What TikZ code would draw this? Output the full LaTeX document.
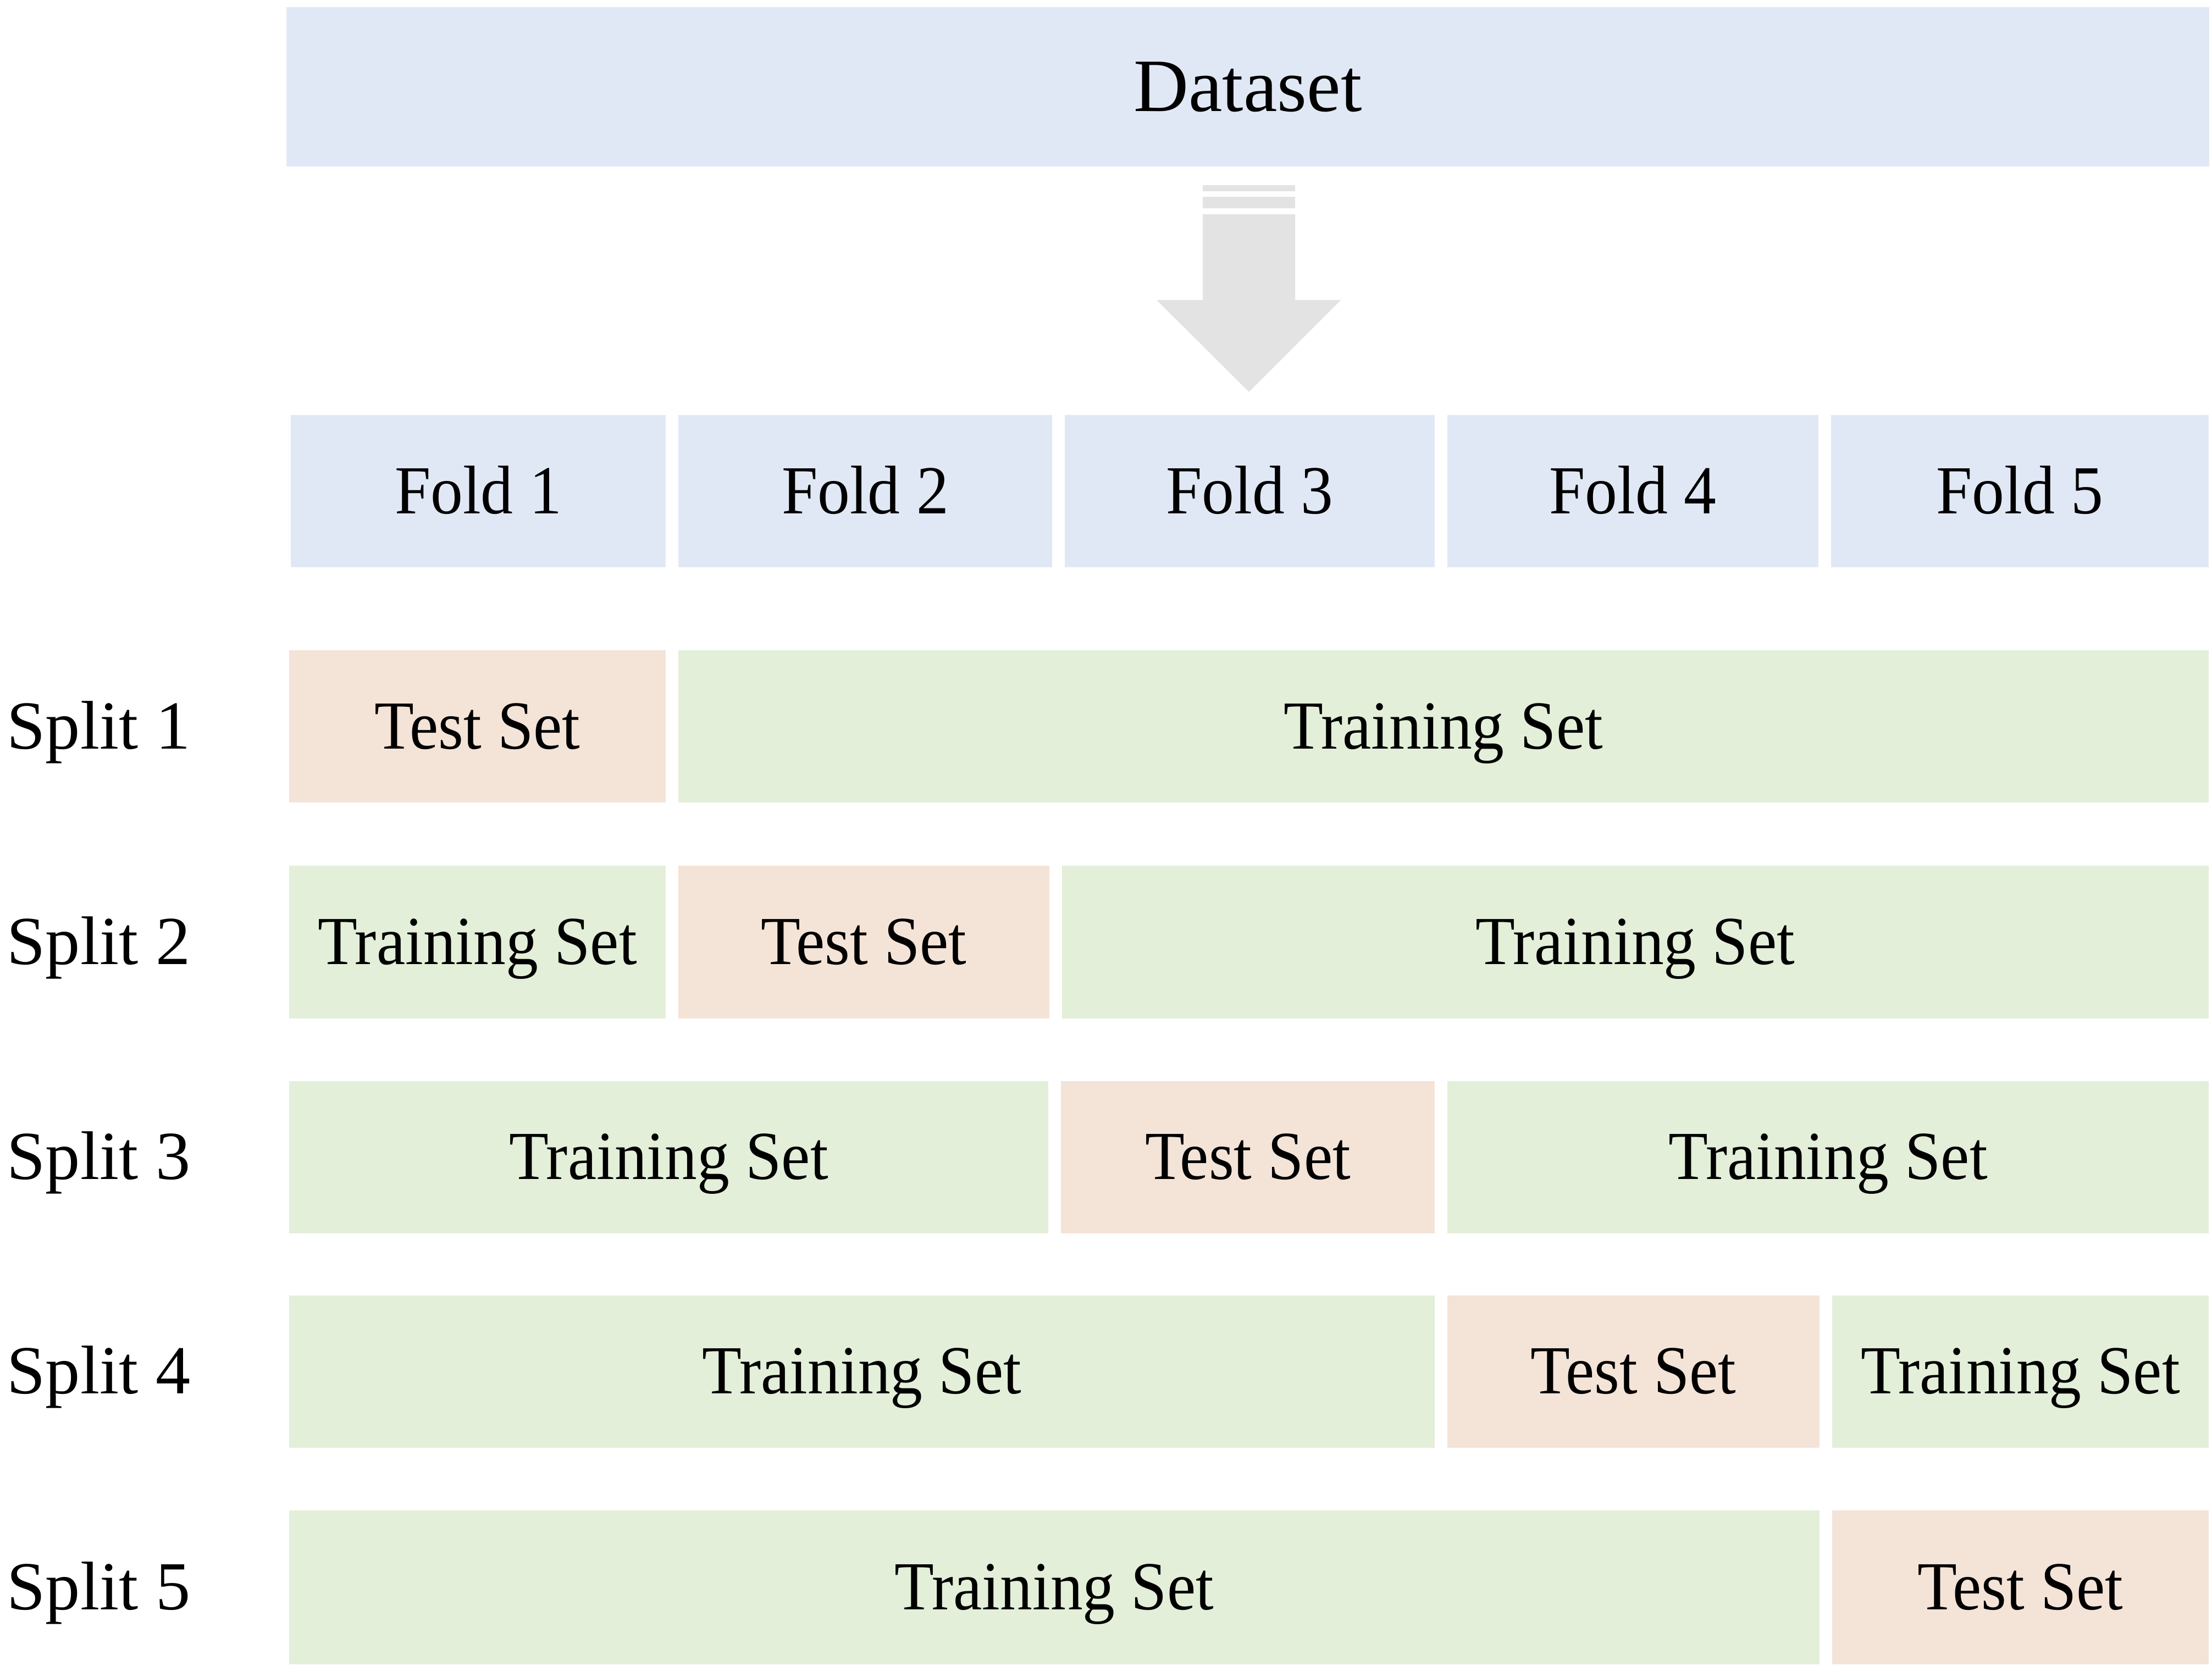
\documentclass[tikz,border=0pt]{standalone}
\usepackage{fontspec}
\setmainfont{Liberation Serif}[FakeStretch=0.94]
\newfontfamily\widefont{Liberation Serif}[FakeStretch=1.01]
\definecolor{foldblue}{HTML}{E1E8F5}
\definecolor{testpeach}{HTML}{F4E3D7}
\definecolor{traingreen}{HTML}{E3EFD9}
\definecolor{arrowgray}{HTML}{E3E3E3}
\tikzset{
    cell/.style={inner sep=0pt, minimum height=2.77cm, text height=23.3pt, text depth=0pt, font=\fontsize{35.6pt}{40pt}\selectfont},
    foldcell/.style={cell, fill=foldblue},
    testcell/.style={cell, fill=testpeach},
    traincell/.style={cell, fill=traingreen},
    splitlabel/.style={anchor=west, inner sep=0pt, text height=23.3pt, text depth=0pt, font=\widefont\fontsize{35.6pt}{40pt}\selectfont}
}
\begin{document}
\begin{tikzpicture}
    \useasboundingbox (0,0) rectangle (40.24,30.41);
    \node[foldcell, minimum width=34.98cm, minimum height=2.90cm, text height=25.5pt, font=\widefont\fontsize{39pt}{44pt}\selectfont] (data) at (22.70,28.83) {Dataset};
    \fill[arrowgray] (21.88,27.04) rectangle (23.56,26.93);
    \fill[arrowgray] (21.88,26.83) rectangle (23.56,26.62);
    \fill[arrowgray] (21.88,26.51) -- (23.56,26.51) -- (23.56,24.95) -- (24.39,24.95) -- (22.72,23.28) -- (21.04,24.95) -- (21.88,24.95) -- cycle;
    \node[foldcell, minimum width=6.82cm] (fold1) at (8.70,21.475) {Fold 1};
    \node[foldcell, minimum width=6.80cm] (fold2) at (15.74,21.475) {Fold 2};
    \node[foldcell, minimum width=6.73cm] (fold3) at (22.735,21.475) {Fold 3};
    \node[foldcell, minimum width=6.75cm] (fold4) at (29.705,21.475) {Fold 4};
    \node[foldcell, minimum width=6.87cm] (fold5) at (36.745,21.475) {Fold 5};
    \node[splitlabel] (split1) at (0.12,17.19) {Split 1};
    \node[testcell, minimum width=6.85cm] (test1) at (8.685,17.19) {Test Set};
    \node[traincell, minimum width=27.84cm] (trainB1) at (26.26,17.19) {Training Set};
    \node[splitlabel] (split2) at (0.12,13.27) {Split 2};
    \node[traincell, minimum width=6.85cm] (trainA2) at (8.685,13.27) {Training Set};
    \node[testcell, minimum width=6.75cm] (test2) at (15.715,13.27) {Test Set};
    \node[traincell, minimum width=20.86cm] (trainB2) at (29.75,13.27) {Training Set};
    \node[splitlabel] (split3) at (0.12,9.36) {Split 3};
    \node[traincell, minimum width=13.81cm] (trainA3) at (12.165,9.36) {Training Set};
    \node[testcell, minimum width=6.80cm] (test3) at (22.70,9.36) {Test Set};
    \node[traincell, minimum width=13.85cm] (trainB3) at (33.255,9.36) {Training Set};
    \node[splitlabel] (split4) at (0.12,5.46) {Split 4};
    \node[traincell, minimum width=20.84cm] (trainA4) at (15.68,5.46) {Training Set};
    \node[testcell, minimum width=6.77cm] (test4) at (29.715,5.46) {Test Set};
    \node[traincell, minimum width=6.85cm] (trainB4) at (36.755,5.46) {Training Set};
    \node[splitlabel] (split5) at (0.12,1.53) {Split 5};
    \node[traincell, minimum width=27.84cm, minimum height=2.80cm] (trainA5) at (19.18,1.53) {Training Set};
    \node[testcell, minimum width=6.85cm, minimum height=2.80cm] (test5) at (36.755,1.53) {Test Set};
\end{tikzpicture}
\end{document}
